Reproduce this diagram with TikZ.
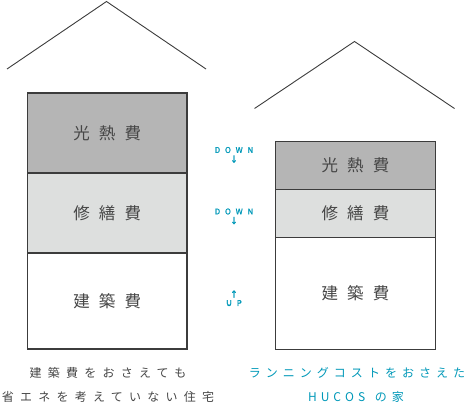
\documentclass[tikz,border=0pt]{standalone}
\usepackage{fontspec}
\usepackage{tikz}
\usetikzlibrary{positioning}
\newfontfamily\jpfont[LetterSpace=55]{Noto Sans CJK JP}
\newfontfamily\capfont[LetterSpace=52]{Noto Sans CJK JP}
\newfontfamily\tealfont[LetterSpace=42]{Noto Sans CJK JP}
\newfontfamily\tagfont[LetterSpace=60,FakeBold=1.2]{Noto Sans CJK JP}
\definecolor{hsLine}{RGB}{60,60,60}
\definecolor{hsText}{RGB}{70,70,70}
\definecolor{hsGray}{RGB}{181,181,181}
\definecolor{hsLight}{RGB}{221,223,222}
\definecolor{hsTeal}{RGB}{0,152,184}
\tikzset{
    base/.style={align=center, inner sep=0pt},
    part/.style={base, rectangle, draw=hsLine, line width=1.1pt, text=hsText,
                 font=\jpfont\fontsize{16.5}{18}\selectfont},
    roof/.style={draw=hsLine, line width=0.9pt},
    tag/.style={base, text=hsTeal, font=\tagfont\fontsize{8}{10}\selectfont},
    caption/.style={base, text=hsText, font=\capfont\fontsize{12}{14}\selectfont},
    tealcap/.style={base, text=hsTeal, font=\tealfont\fontsize{12}{14}\selectfont}
}
\begin{document}
\begin{tikzpicture}[x=1pt, y=-1pt]
  \useasboundingbox (0,0) rectangle (470,417);

  % Ordinary house
  \node[part, fill=hsGray, minimum width=159.5pt, minimum height=80pt] (aHeat) at (107.25,133) {光熱費};
  \node[part, fill=hsLight, minimum width=159.5pt, minimum height=80pt] (aRepair) at (107.25,213) {修繕費};
  \node[part, fill=white, minimum width=159.5pt, minimum height=96pt] (aBuild) at (107.25,301) {建築費};
  \coordinate (aEaveL) at (7,69);
  \coordinate (aTop) at (106.5,1.5);
  \coordinate (aEaveR) at (206,69);
  \draw[roof] (aEaveL) -- (aTop) -- (aEaveR);

  % HUCOS house
  \node[part, fill=hsGray, minimum width=160pt, minimum height=48pt] (bHeat) at (355.5,165.4) {光熱費};
  \node[part, fill=hsLight, minimum width=160pt, minimum height=48pt] (bRepair) at (355.5,213.3) {修繕費};
  \node[part, fill=white, minimum width=160pt, minimum height=111.7pt] (bBuild) at (355.5,293.2) {建築費};
  \coordinate (bEaveL) at (254.5,108.5);
  \coordinate (bTop) at (354.5,41.5);
  \coordinate (bEaveR) at (454.5,108.5);
  \draw[roof] (bEaveL) -- (bTop) -- (bEaveR);

  % Changes
  \node[tag] (dHeat) at (234,150) {DOWN};
  \node[tag, below=2pt of dHeat] (dHeatArr) {↓};
  \node[tag] (dRepair) at (234,211.5) {DOWN};
  \node[tag, below=2pt of dRepair] (dRepairArr) {↓};
  \node[tag] (uBuildArr) at (234,294) {↑};
  \node[tag, below=2pt of uBuildArr] (uBuild) {UP};

  % Captions
  \node[caption] (aCap1) at (108,373) {建築費をおさえても};
  \node[caption] (aCap2) at (108,397) {省エネを考えていない住宅};
  \node[tealcap] (bCap1) at (357,373) {ランニングコストをおさえた};
  \node[tealcap] (bCap2) at (356,397) {H\kern4pt U\kern4pt C\kern4pt O\kern4pt S\kern2pt\ の家};
\end{tikzpicture}
\end{document}
